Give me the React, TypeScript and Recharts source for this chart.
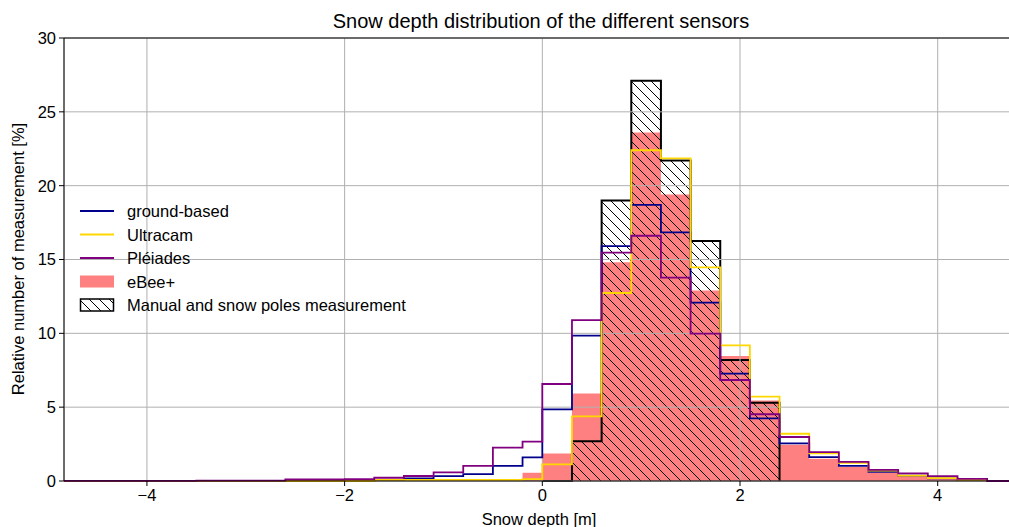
import React from 'react';
import {
  ComposedChart,
  Area,
  Line,
  XAxis,
  YAxis,
  CartesianGrid,
  ReferenceLine,
} from 'recharts';

// Bin edges of the snow depth histograms [m]
const binEdges = [
  -5, -4.7, -4.4, -4.1, -3.8, -3.5, -3.2, -2.9, -2.6, -2.3, -2.0, -1.7, -1.4, -1.1, -0.8, -0.5, -0.2,
  0, 0.3, 0.6, 0.9, 1.2, 1.5, 1.8, 2.1, 2.4, 2.7, 3.0, 3.3, 3.6, 3.9, 4.2, 4.5, 4.8,
];

// Relative frequency per bin [%] (one value per bin, bins start at binEdges[i])
const groundBased = [
  0, 0, 0, 0, 0, 0, 0, 0, 0, 0, 0, 0.08, 0.17, 0.33, 0.47, 1.02, 1.6,
  4.85, 9.84, 15.9, 18.7, 16.84, 12.08, 7.27, 4.24, 2.55, 1.62, 1.03, 0.62, 0.36, 0.18, 0.06, 0,
];
const ultracam = [
  0, 0, 0, 0, 0, 0, 0, 0, 0, 0, 0, 0.07, 0.07, 0.07, 0.07, 0.07, 0.13,
  1.13, 4.38, 12.73, 22.4, 21.85, 14.47, 9.18, 5.71, 3.2, 1.87, 1.23, 0.7, 0.36, 0.2, 0.08, 0,
];
const pleiades = [
  0.01, 0.01, 0.01, 0.01, 0.01, 0.02, 0.02, 0.03, 0.1, 0.1, 0.12, 0.22, 0.34, 0.58, 1.03, 2.26, 2.66,
  6.57, 10.9, 15.47, 16.61, 13.77, 9.98, 6.84, 4.52, 2.98, 1.96, 1.29, 0.76, 0.52, 0.33, 0.14, 0,
];
const eBeePlus = [
  0, 0, 0, 0, 0, 0, 0, 0, 0.03, 0.03, 0.03, 0.04, 0.04, 0.05, 0.05, 0.05, 0.56,
  1.87, 5.92, 14.82, 23.6, 19.4, 12.9, 8.47, 5.45, 2.45, 1.5, 0.95, 0.58, 0.33, 0.18, 0.08, 0.05,
];
const manualPoles: (number | null)[] = [
  null, null, null, null, null, null, null, null, null, null, null, null, null, null, null, null, null,
  0, 2.7, 19.0, 27.1, 21.7, 16.25, 8.2, 5.3, 0, null, null, null, null, null, null, null,
];

const xTicks = [-4, -2, 0, 2, 4];
const yTicks = [0, 5, 10, 15, 20, 25, 30];

const BLUE = '#00008b';
const GOLD = '#ffd700';
const PURPLE = '#800080';
const SALMON = '#ff8080';

// One row per bin edge; the closing edge brings every step back to zero
const rows = binEdges.map((edge, i) => ({
  edge,
  groundBased: i < groundBased.length ? groundBased[i] : 0,
  ultracam: i < ultracam.length ? ultracam[i] : 0,
  pleiades: i < pleiades.length ? pleiades[i] : 0,
  eBeePlus: i < eBeePlus.length ? eBeePlus[i] : 0,
  manualPoles: i < manualPoles.length ? manualPoles[i] : null,
}));

const FONT = '"Liberation Sans", Arial, Helvetica, sans-serif';
const fmt = (v: number) => (v < 0 ? `\u2212${Math.abs(v)}` : `${v}`);

const legendEntries = [
  { label: 'ground-based', kind: 'line', color: BLUE },
  { label: 'Ultracam', kind: 'line', color: GOLD },
  { label: 'Pléiades', kind: 'line', color: PURPLE },
  { label: 'eBee+', kind: 'patch', color: SALMON },
  { label: 'Manual and snow poles measurement', kind: 'hatch', color: '#000' },
];

export default function App() {
  return (
    <div
      style={{
        position: 'absolute',
        left: 0,
        top: 0,
        width: 1009,
        height: 527,
        overflow: 'hidden',
        background: '#fff',
        fontFamily: FONT,
      }}
    >
      <ComposedChart
        width={1030}
        height={527}
        data={rows}
        margin={{ top: 38, right: 15, bottom: 0, left: 0 }}
        style={{ fontFamily: FONT }}
      >
        <defs>
          <pattern id="hatchPoles" patternUnits="userSpaceOnUse" width="10" height="10">
            <path d="M-1,-1 L11,11 M-6,4 L6,16 M4,-6 L16,6" stroke="#000" strokeWidth="1" />
          </pattern>
        </defs>
        <XAxis
          dataKey="edge"
          type="number"
          domain={[-4.839, 4.782]}
          allowDataOverflow
          ticks={xTicks}
          tickFormatter={fmt}
          height={46}
          tickSize={5}
          tickMargin={3}
          stroke="#000"
          tick={{ fontSize: 16.5, fill: '#000', fontFamily: FONT }}
        />
        <YAxis
          type="number"
          domain={[0, 30]}
          ticks={yTicks}
          width={64}
          tickSize={5}
          tickMargin={3}
          stroke="#000"
          tick={{ fontSize: 16.5, fill: '#000', fontFamily: FONT }}
        />
        <Area
          dataKey="eBeePlus"
          type="stepAfter"
          fill={SALMON}
          fillOpacity={1}
          stroke="none"
          isAnimationActive={false}
          activeDot={false}
        />
        <Area
          dataKey="manualPoles"
          type="stepAfter"
          fill="url(#hatchPoles)"
          fillOpacity={1}
          stroke="#000"
          strokeWidth={2}
          isAnimationActive={false}
          activeDot={false}
        />
        <CartesianGrid stroke="#b0b0b0" strokeWidth={1} zIndex={150} />
        <Line
          dataKey="groundBased"
          type="stepAfter"
          stroke={BLUE}
          strokeWidth={1.8}
          dot={false}
          activeDot={false}
          isAnimationActive={false}
        />
        <Line
          dataKey="ultracam"
          type="stepAfter"
          stroke={GOLD}
          strokeWidth={1.8}
          dot={false}
          activeDot={false}
          isAnimationActive={false}
        />
        <Line
          dataKey="pleiades"
          type="stepAfter"
          stroke={PURPLE}
          strokeWidth={1.8}
          dot={false}
          activeDot={false}
          isAnimationActive={false}
        />
        <ReferenceLine y={30} stroke="#000" strokeWidth={1} />
      </ComposedChart>

      <svg
        width={1009}
        height={527}
        style={{ position: 'absolute', left: 0, top: 0, pointerEvents: 'none' }}
      >
        <defs>
          <pattern id="hatchKey" patternUnits="userSpaceOnUse" width="10" height="10">
            <path d="M-1,-1 L11,11 M-6,4 L6,16 M4,-6 L16,6" stroke="#000" strokeWidth="1" />
          </pattern>
        </defs>
        <text x={541} y={21} textAnchor="middle" dominantBaseline="central" fontSize={20} fill="#000" fontFamily={FONT}>
          Snow depth distribution of the different sensors
        </text>
        <text x={539} y={519} textAnchor="middle" dominantBaseline="central" fontSize={16.5} fill="#000" fontFamily={FONT}>
          Snow depth [m]
        </text>
        <text
          x={18}
          y={259}
          textAnchor="middle"
          dominantBaseline="central"
          fontSize={16.5}
          fill="#000"
          fontFamily={FONT}
          transform="rotate(-90 18 259)"
        >
          Relative number of measurement [%]
        </text>
        {legendEntries.map((e, i) => {
          const cy = 211 + i * 23.5;
          return (
            <g key={e.label}>
              {e.kind === 'line' && <line x1={80} x2={114} y1={cy} y2={cy} stroke={e.color} strokeWidth={2} />}
              {e.kind === 'patch' && <rect x={80} y={cy - 6} width={34} height={12} fill={e.color} />}
              {e.kind === 'hatch' && (
                <rect x={80.5} y={cy - 6} width={33} height={12} fill="url(#hatchKey)" stroke="#000" strokeWidth={1.5} />
              )}
              <text x={127} y={cy} dominantBaseline="central" fontSize={16.5} fill="#000" fontFamily={FONT}>
                {e.label}
              </text>
            </g>
          );
        })}
      </svg>
    </div>
  );
}
